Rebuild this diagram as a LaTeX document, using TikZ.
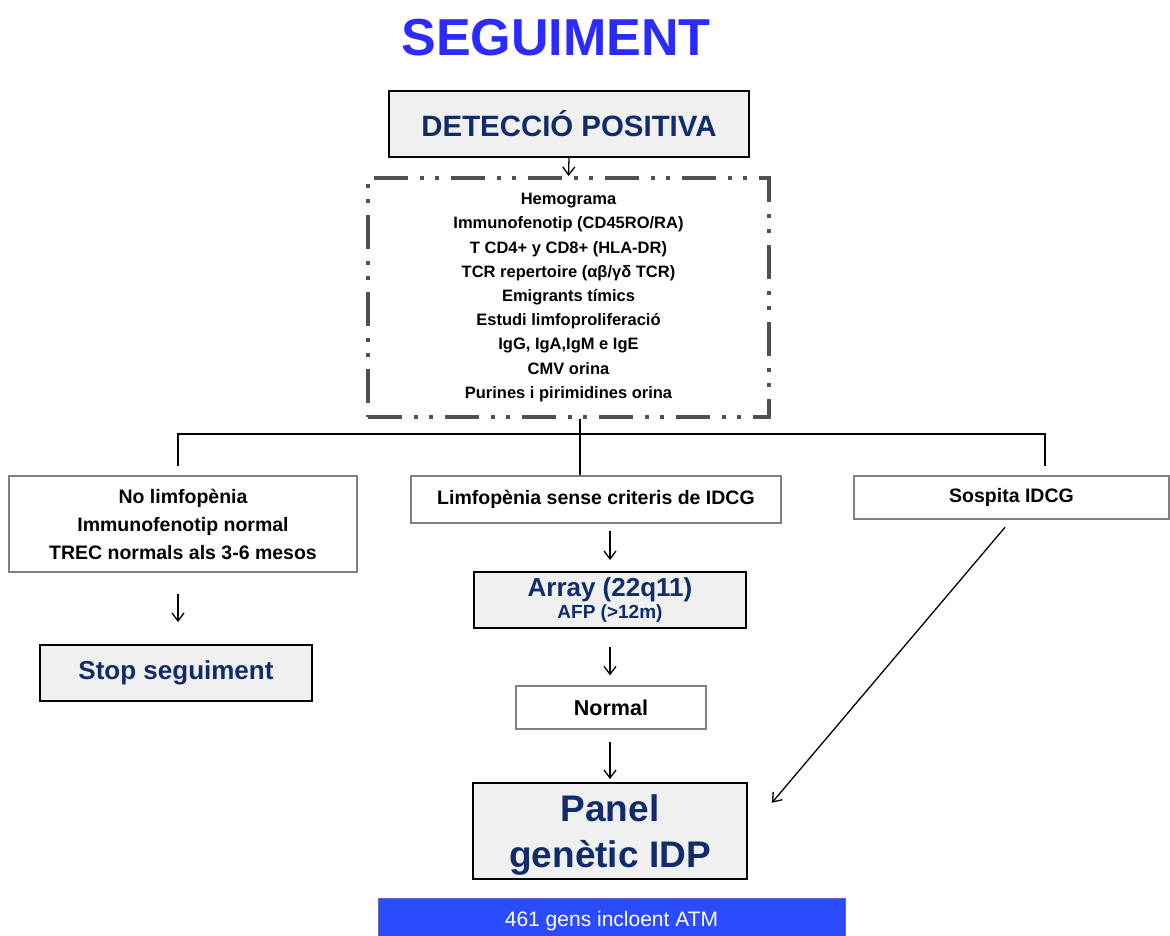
\documentclass[tikz,border=0pt]{standalone}
\usepackage{fontspec}
\setmainfont{Liberation Sans}
\usetikzlibrary{arrows.meta}

\definecolor{navy}{HTML}{102C6A}
\definecolor{titleblue}{HTML}{2B2BFF}
\definecolor{barblue}{HTML}{2A4BFF}
\definecolor{boxgray}{HTML}{F0F0F0}
\definecolor{dashgray}{HTML}{505050}

\newcommand{\fsz}[2]{\fontsize{#1}{#2}\selectfont\bfseries}

\tikzset{
  graybox/.style={draw=black, line width=2pt, fill=boxgray, text=navy,
    inner sep=0pt, align=center},
  whitebox/.style={draw=black!50, line width=1.2pt, fill=white,
    inner sep=0pt, align=center},
  arr/.style={line width=1.3pt, -{Straight Barb[length=8pt,width=12pt]}},
}

\begin{document}
\begin{tikzpicture}[x=1pt, y=-1pt]

    \useasboundingbox (0,0) rectangle (1170,935);

    % title
    \node[text=titleblue, font=\fsz{52}{60}] (title) at (556,38) {SEGUIMENT};

    \node[graybox, minimum width=360, minimum height=66, font=\fsz{29.4}{32}]
        (det) at (569,124) {DETECCIÓ POSITIVA};

    % tests
    \node[draw=dashgray, line width=4pt, inner sep=0pt, align=center,
        dash pattern=on 34pt off 12pt on 4pt off 11pt on 4pt off 12pt,
        minimum width=401, minimum height=239, font=\fsz{16.5}{24.2}]
        (tests) at (568.5,297.5)
        {Hemograma\\
         Immunofenotip (CD45RO/RA)\\
         T CD4+ y CD8+ (HLA-DR)\\
         TCR repertoire (αβ/γδ TCR)\\
         Emigrants tímics\\
         Estudi limfoproliferació\\
         IgG, IgA,IgM e IgE\\
         CMV orina\\
         Purines i pirimidines orina};

    \draw[arr] (det.south) -- (tests.north);

    % branches
    \node[whitebox, minimum width=348, minimum height=96, font=\fsz{19.5}{28}]
        (nolim) at (183,524)
        {No limfopènia\\ Immunofenotip normal\\ TREC normals als 3-6 mesos};
    \node[whitebox, minimum width=370, minimum height=47, font=\fsz{19.5}{24}]
        (limf) at (596,499.5) {Limfopènia sense criteris de IDCG};
    \node[whitebox, minimum width=315, minimum height=43, font=\fsz{19.5}{24}]
        (sosp) at (1011.5,497.5) {Sospita IDCG};

    \coordinate (junc) at (580,434);
    \coordinate (lft) at (178,466);
    \coordinate (rgt) at (1045,466);
    \draw[line width=1.2pt] (tests.south -| junc) -- (junc);
    \draw[line width=1.2pt] (lft) |- (junc) -| (rgt);
    \draw[line width=1.2pt] (junc) -- (limf.north -| junc);

    % left
    \node[graybox, minimum width=272, minimum height=56, font=\fsz{26}{30}]
        (stop) at (176,673) {Stop seguiment};
    \draw[arr, shorten <=21pt, shorten >=22pt] (nolim.south -| lft) -- (stop.north -| lft);

    % middle
    \node[graybox, minimum width=272, minimum height=56] (array) at (610,600)
        {{\fsz{26}{26}Array (22q11)}\\[1pt] {\fsz{19}{21}AFP (>12m)}};
    \node[whitebox, minimum width=190, minimum height=43, font=\fsz{21.5}{24}]
        (normal) at (611,707.5) {Normal};
    \node[graybox, minimum width=274, minimum height=96, font=\fsz{37}{46}]
        (panel) at (610,831) {\rule{0pt}{35pt}Panel\\ genètic IDP};

    \draw[arr, shorten <=7pt, shorten >=11pt] (limf.south -| array.north) -- (array.north);
    \draw[arr, shorten <=18pt, shorten >=10pt] (array.south) -- (normal.north -| array.south);
    \draw[arr, shorten <=12pt, shorten >=3pt] (normal.south -| panel.north) -- (panel.north);

    % right
    \draw[arr, shorten <=10pt, shorten >=37pt] (sosp.south) -- (panel.east);

    % bottom bar
    \node[draw=black!45!blue!60, line width=1pt, fill=barblue, text=white,
        minimum width=467, minimum height=46, inner sep=0pt,
        font=\fontsize{21}{24}\selectfont]
        (genes) at (611.5,921) {461 gens incloent ATM};

\end{tikzpicture}
\end{document}
